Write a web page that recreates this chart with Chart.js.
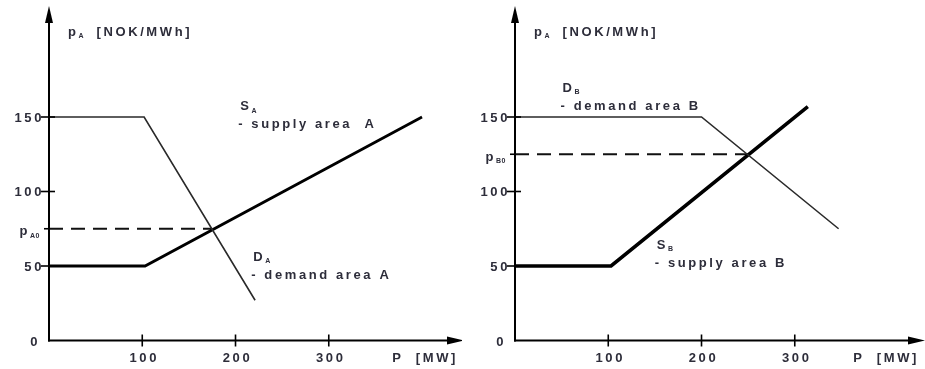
<!DOCTYPE html>
<html>
<head>
<meta charset="utf-8">
<script src="https://cdn.jsdelivr.net/npm/chart.js@4"></script>
<style>
  html, body { margin: 0; padding: 0; background: #fff; }
  #wrap { position: relative; width: 925px; height: 369px; overflow: hidden; }
  canvas { position: absolute; top: 0; }
</style>
</head>
<body>
<div id="wrap">
  <canvas id="cA" width="462" height="369" style="left:0px"></canvas>
  <canvas id="cB" width="463" height="369" style="left:462px"></canvas>
</div>
<script>
// ---- data ----
const xTicks = [100, 200, 300];
const yTicks = [0, 50, 100, 150];
const xTickLabels = ['100', '200', '300'];
const yTickLabels = ['0', '50', '100', '150'];

// Area A
const supplyA_P = [0, 103, 400];
const supplyA_price = [50, 50, 150];
const demandA_P = [0, 102, 221];
const demandA_price = [150, 150, 27];
const eqA_P = 175;
const eqA_price = 75;

// Area B
const supplyB_P = [0, 103, 314];
const supplyB_price = [50, 50, 157];
const demandB_P = [0, 200, 347];
const demandB_price = [150, 150, 75];
const eqB_P = 250;
const eqB_price = 125;

// ---- helpers ----
const TXT = '#2d2d3a';
const FONT = 'bold 13px "Liberation Sans", Arial, sans-serif';
const SUBFONT = 'bold 7px "Liberation Sans", Arial, sans-serif';
const SPACING = '2.6px';

function pts(xs, ys) { return xs.map((x, i) => ({ x: x, y: ys[i] })); }

// parts: array of [text, isSub]
function drawRich(ctx, parts, x, y, align) {
  ctx.save();
  ctx.textBaseline = 'middle';
  ctx.textAlign = 'left';
  let total = 0;
  const widths = parts.map(p => {
    ctx.font = p[1] ? SUBFONT : FONT;
    ctx.letterSpacing = p[1] ? '0.5px' : SPACING;
    const w = ctx.measureText(p[0]).width;
    total += w;
    return w;
  });
  let cx = x;
  if (align === 'right') cx = x - total;
  if (align === 'center') cx = x - total / 2;
  parts.forEach((p, i) => {
    ctx.font = p[1] ? SUBFONT : FONT;
    ctx.letterSpacing = p[1] ? '0.5px' : SPACING;
    ctx.fillStyle = TXT;
    ctx.fillText(p[0], cx, p[1] ? y + 4 : y);
    cx += widths[i];
  });
  ctx.restore();
}

function axesPlugin(opts) {
  return {
    id: 'axesDraw',
    afterDatasetsDraw(chart) {
      const ctx = chart.ctx;
      const xs = chart.scales.x, ys = chart.scales.y;
      const x0 = xs.getPixelForValue(0), y0 = ys.getPixelForValue(0);
      ctx.save();
      ctx.strokeStyle = '#000';
      ctx.fillStyle = '#000';
      ctx.lineWidth = 2;
      // y axis
      ctx.beginPath();
      ctx.moveTo(x0, y0 + 1);
      ctx.lineTo(x0, opts.yTip + 10);
      ctx.stroke();
      ctx.beginPath();
      ctx.moveTo(x0, opts.yTip);
      ctx.lineTo(x0 - 4, opts.yTip + 17);
      ctx.lineTo(x0 + 4, opts.yTip + 17);
      ctx.closePath();
      ctx.fill();
      // x axis
      ctx.beginPath();
      ctx.moveTo(x0 - 1, y0);
      ctx.lineTo(opts.xTip - 10, y0);
      ctx.stroke();
      ctx.beginPath();
      ctx.moveTo(opts.xTip, y0);
      ctx.lineTo(opts.xTip - 17, y0 - 4);
      ctx.lineTo(opts.xTip - 17, y0 + 4);
      ctx.closePath();
      ctx.fill();
      // ticks
      ctx.lineWidth = 1.6;
      xTicks.forEach(v => {
        const px = xs.getPixelForValue(v);
        ctx.beginPath();
        ctx.moveTo(px, y0 - 6);
        ctx.lineTo(px, y0 + 6);
        ctx.stroke();
      });
      yTicks.forEach(v => {
        if (v === 0) return;
        const py = ys.getPixelForValue(v);
        ctx.beginPath();
        ctx.moveTo(x0 - 8, py);
        ctx.lineTo(x0 + 6, py);
        ctx.stroke();
      });
      // equilibrium price tick
      const pe = ys.getPixelForValue(opts.eqPrice);
      ctx.beginPath();
      ctx.moveTo(x0 - 5, pe);
      ctx.lineTo(x0, pe);
      ctx.stroke();
      ctx.restore();

      // tick labels
      xTicks.forEach((v, i) => {
        drawRich(ctx, [[xTickLabels[i], false]], xs.getPixelForValue(v) + 2, y0 + 18, 'center');
      });
      yTicks.forEach((v, i) => {
        const off = v === 0 ? 9 : 5;
        drawRich(ctx, [[yTickLabels[i], false]], x0 - off, ys.getPixelForValue(v) + (v === 0 ? 2 : 1), 'right');
      });
      drawRich(ctx, [['p', false], [opts.eqSub, true]], x0 - 9, pe + 3, 'right');

      // axis titles
      drawRich(ctx, [['p', false], ['A', true], ['  [NOK/MWh]', false]], x0 + 19, 32, 'left');
      drawRich(ctx, [['P  [MW]', false]], opts.xTip - 6, y0 + 18, 'right');

      // curve annotations
      opts.notes.forEach(n => {
        const px = xs.getPixelForValue(n.x), py = ys.getPixelForValue(n.y);
        drawRich(ctx, [[n.name, false], [n.sub, true]], px, py, 'left');
        drawRich(ctx, [[n.desc, false]], px - 2, py + 18, 'left');
      });
    }
  };
}

function makeChart(id, cfg) {
  return new Chart(document.getElementById(id), {
    type: 'scatter',
    data: {
      datasets: [
        { data: pts(cfg.demandP, cfg.demandPrice), showLine: true, borderColor: '#2a2a2a', borderWidth: 1.6, pointRadius: 0, tension: 0 },
        { data: pts(cfg.supplyP, cfg.supplyPrice), showLine: true, borderColor: '#000', borderWidth: cfg.supplyWidth, pointRadius: 0, tension: 0 },
        { data: pts([0, cfg.eqP], [cfg.eqPrice, cfg.eqPrice]), showLine: true, borderColor: '#111', borderWidth: 2, borderDash: [14, 8], pointRadius: 0 }
      ]
    },
    options: {
      responsive: false,
      animation: false,
      devicePixelRatio: 1,
      layout: { padding: cfg.padding },
      scales: {
        x: { type: 'linear', min: 0, max: 430, display: false },
        y: { type: 'linear', min: 0, max: 220, display: false }
      },
      plugins: { legend: { display: false }, tooltip: { enabled: false } }
    },
    plugins: [axesPlugin(cfg)]
  });
}

makeChart('cA', {
  supplyP: supplyA_P, supplyPrice: supplyA_price, supplyWidth: 2.8,
  demandP: demandA_P, demandPrice: demandA_price,
  eqP: eqA_P, eqPrice: eqA_price, eqSub: 'A0',
  padding: { left: 49, right: 12, top: 12.7, bottom: 28.5 },
  yTip: 6, xTip: 464,
  notes: [
    { x: 205, y: 157, name: 'S', sub: 'A', desc: '- supply area  A' },
    { x: 219, y: 56, name: 'D', sub: 'A', desc: '- demand area A' }
  ]
});

makeChart('cB', {
  supplyP: supplyB_P, supplyPrice: supplyB_price, supplyWidth: 3.6,
  demandP: demandB_P, demandPrice: demandB_price,
  eqP: eqB_P, eqPrice: eqB_price, eqSub: 'B0',
  padding: { left: 53, right: 9, top: 12.7, bottom: 28.5 },
  yTip: 6, xTip: 463,
  notes: [
    { x: 51, y: 169.5, name: 'D', sub: 'B', desc: '- demand area B' },
    { x: 152, y: 64, name: 'S', sub: 'B', desc: '- supply area B' }
  ]
});
</script>
</body>
</html>
